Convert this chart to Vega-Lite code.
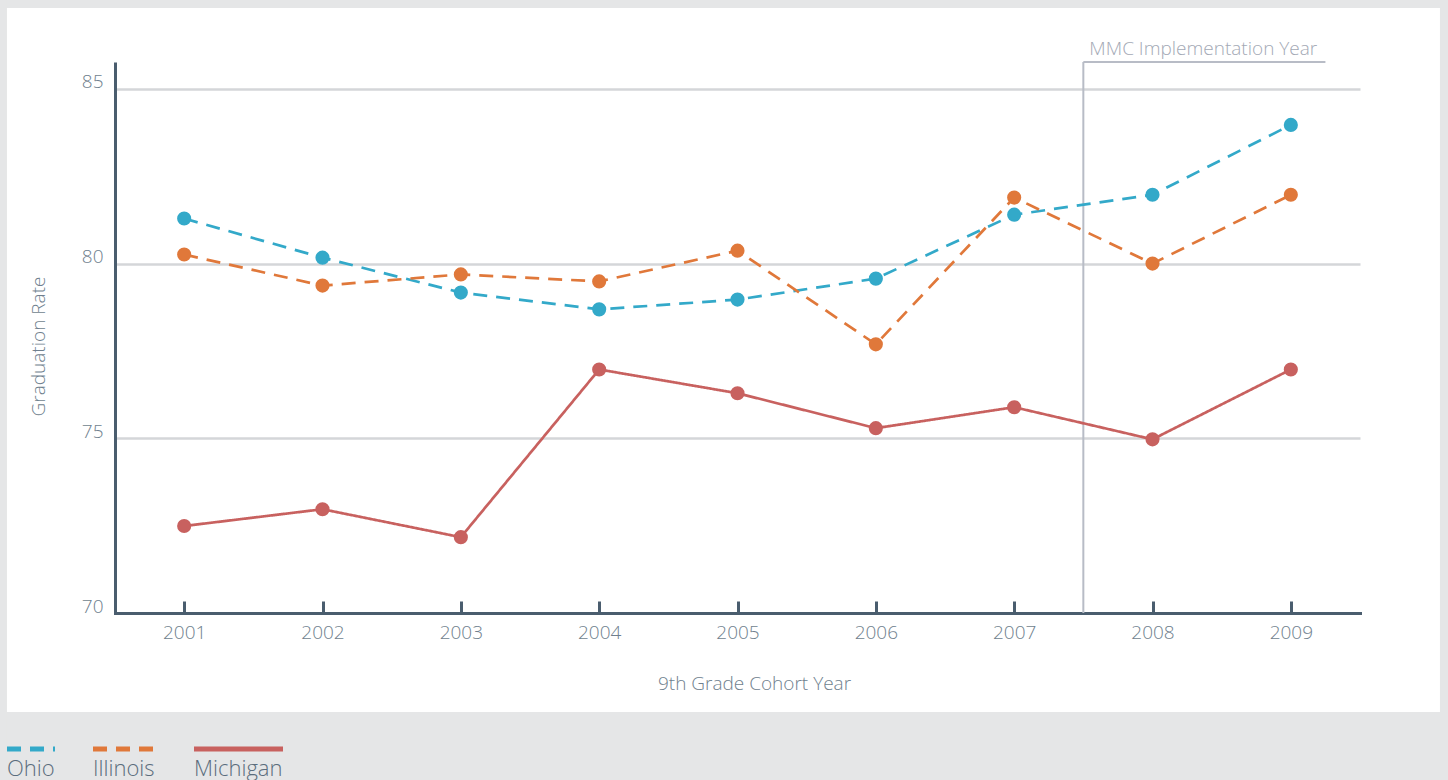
{
  "$schema": "https://vega.github.io/schema/vega-lite/v6.json",
  "width": 1245,
  "height": 551,
  "autosize": {"type": "none"},
  "padding": {"left": 115, "top": 62, "right": 88, "bottom": 167},
  "background": "white",
  "config": {
    "view": {"stroke": null},
    "font": "Open Sans",
    "axis": {"labelFont": "Open Sans", "titleFont": "Open Sans", "titleFontWeight": 300, "labelFontWeight": 300}
  },
  "datasets": {
    "rates": [
      {"year": 2001, "state": "Ohio", "rate": 81.29},
      {"year": 2002, "state": "Ohio", "rate": 80.17},
      {"year": 2003, "state": "Ohio", "rate": 79.17},
      {"year": 2004, "state": "Ohio", "rate": 78.69},
      {"year": 2005, "state": "Ohio", "rate": 78.97},
      {"year": 2006, "state": "Ohio", "rate": 79.57},
      {"year": 2007, "state": "Ohio", "rate": 81.4},
      {"year": 2008, "state": "Ohio", "rate": 81.97},
      {"year": 2009, "state": "Ohio", "rate": 83.97},
      {"year": 2001, "state": "Illinois", "rate": 80.26},
      {"year": 2002, "state": "Illinois", "rate": 79.37},
      {"year": 2003, "state": "Illinois", "rate": 79.69},
      {"year": 2004, "state": "Illinois", "rate": 79.49},
      {"year": 2005, "state": "Illinois", "rate": 80.37},
      {"year": 2006, "state": "Illinois", "rate": 77.69},
      {"year": 2007, "state": "Illinois", "rate": 81.89},
      {"year": 2008, "state": "Illinois", "rate": 80.0},
      {"year": 2009, "state": "Illinois", "rate": 81.97},
      {"year": 2001, "state": "Michigan", "rate": 72.49},
      {"year": 2002, "state": "Michigan", "rate": 72.97},
      {"year": 2003, "state": "Michigan", "rate": 72.17},
      {"year": 2004, "state": "Michigan", "rate": 76.97},
      {"year": 2005, "state": "Michigan", "rate": 76.29},
      {"year": 2006, "state": "Michigan", "rate": 75.29},
      {"year": 2007, "state": "Michigan", "rate": 75.89},
      {"year": 2008, "state": "Michigan", "rate": 74.97},
      {"year": 2009, "state": "Michigan", "rate": 76.97}
    ],
    "frame": [
      {"year": 1999.5, "year2": 2010.5, "rate": 60, "rate2": 67.167},
      {"year": 1999.5, "year2": 2010.5, "rate": 87.315, "rate2": 88},
      {"year": 1999.5, "year2": 1999.719, "rate": 60, "rate2": 88},
      {"year": 2010.078, "year2": 2010.5, "rate": 60, "rate2": 88}
    ],
    "mmcVertical": [{"year": 2007.5, "rate": 70, "rate2": 85.77}],
    "mmcTop": [{"year": 2007.5, "year2": 2009.25, "rate": 85.77, "label": "MMC Implementation Year"}]
  },
  "encoding": {
    "x": {
      "field": "year",
      "type": "quantitative",
      "scale": {"domain": [2000.5, 2009.5], "nice": false, "zero": false},
      "axis": {
        "title": "9th Grade Cohort Year",
        "values": [2001, 2002, 2003, 2004, 2005, 2006, 2007, 2008, 2009],
        "format": "d",
        "grid": false,
        "domainColor": "#4a5d6e",
        "domainWidth": 3,
        "domainCap": "square",
        "tickColor": "#4a5d6e",
        "tickWidth": 3,
        "tickSize": -12,
        "labelPadding": 22,
        "labelFontSize": 19,
        "labelColor": "#6f7f8e",
        "titleFontSize": 19,
        "titleColor": "#6f7f8e",
        "titleX": 639,
        "titleY": 70,
        "titleBaseline": "middle"
      }
    },
    "y": {
      "field": "rate",
      "type": "quantitative",
      "scale": {"domain": [70, 85.77], "nice": false, "zero": false},
      "axis": {
        "title": "Graduation Rate",
        "values": [70, 75, 80, 85],
        "grid": true,
        "gridColor": "#d4d6d9",
        "gridWidth": 2.5,
        "domainColor": "#4a5d6e",
        "domainWidth": 3,
        "ticks": false,
        "labelPadding": 12,
        "labelOffset": -7,
        "labelFontSize": 19,
        "labelColor": "#6f7f8e",
        "titleFontSize": 19,
        "titleColor": "#6f7f8e",
        "titleX": -77,
        "titleY": 284,
        "titleBaseline": "middle"
      }
    }
  },
  "layer": [
    {
      "data": {"name": "frame"},
      "mark": {"type": "rect", "color": "#e5e6e7", "clip": false},
      "encoding": {
        "x2": {"field": "year2"},
        "y2": {"field": "rate2"}
      }
    },
    {
      "data": {"name": "mmcVertical"},
      "mark": {"type": "rule", "color": "#b8bcc6", "strokeWidth": 2},
      "encoding": {
        "y2": {"field": "rate2"}
      }
    },
    {
      "data": {"name": "mmcTop"},
      "mark": {"type": "rule", "color": "#b8bcc6", "strokeWidth": 2},
      "encoding": {
        "x2": {"field": "year2"}
      }
    },
    {
      "data": {"name": "mmcTop"},
      "mark": {"type": "text", "align": "left", "baseline": "alphabetic", "dx": 6, "dy": -7, "fontSize": 19, "fontWeight": 300, "color": "#a3a9b5", "font": "Open Sans"},
      "encoding": {
        "text": {"field": "label"}
      }
    },
    {
      "data": {"name": "rates"},
      "mark": {"type": "line", "strokeWidth": 2.7},
      "encoding": {
        "color": {
          "field": "state",
          "type": "nominal",
          "scale": {"domain": ["Ohio", "Illinois", "Michigan"], "range": ["#33a9c9", "#e0783a", "#c8615f"]},
          "legend": {
            "title": null,
            "orient": "none",
            "direction": "horizontal",
            "legendX": -108,
            "legendY": 687,
            "symbolType": "stroke",
            "symbolSize": 3600,
            "symbolStrokeWidth": 5,
            "labelFontSize": 22,
            "labelFontWeight": 300,
            "labelColor": "#5b6d7d",
            "labelFont": "Open Sans",
            "columnPadding": 18,
            "encode": {
              "symbols": {"update": {
                "size": {"signal": "datum.label === 'Ohio' ? 2304 : datum.label === 'Illinois' ? 3969 : 7921"},
                "x": {"signal": "datum.label === 'Ohio' ? 24 : datum.label === 'Illinois' ? 31.5 : 44.5"},
                "y": {"value": 0}
              }},
              "labels": {"update": {"x": {"value": 0}, "y": {"value": 20}, "align": {"value": "left"}, "baseline": {"value": "middle"}}}
            }
          }
        },
        "strokeDash": {
          "field": "state",
          "type": "nominal",
          "scale": {"domain": ["Ohio", "Illinois", "Michigan"], "range": [[14, 9], [14, 9], [1, 0]]},
          "legend": {
            "title": null,
            "orient": "none",
            "direction": "horizontal",
            "legendX": -108,
            "legendY": 687,
            "symbolType": "stroke",
            "symbolSize": 3600,
            "symbolStrokeWidth": 5,
            "labelFontSize": 22,
            "labelFontWeight": 300,
            "labelColor": "#5b6d7d",
            "labelFont": "Open Sans",
            "columnPadding": 18,
            "encode": {
              "symbols": {"update": {
                "size": {"signal": "datum.label === 'Ohio' ? 2304 : datum.label === 'Illinois' ? 3969 : 7921"},
                "x": {"signal": "datum.label === 'Ohio' ? 24 : datum.label === 'Illinois' ? 31.5 : 44.5"},
                "y": {"value": 0}
              }},
              "labels": {"update": {"x": {"value": 0}, "y": {"value": 20}, "align": {"value": "left"}, "baseline": {"value": "middle"}}}
            }
          }
        }
      }
    },
    {
      "data": {"name": "rates"},
      "mark": {"type": "point", "filled": true, "size": 200, "opacity": 1},
      "encoding": {
        "color": {"field": "state", "type": "nominal", "legend": null}
      }
    }
  ]
}
